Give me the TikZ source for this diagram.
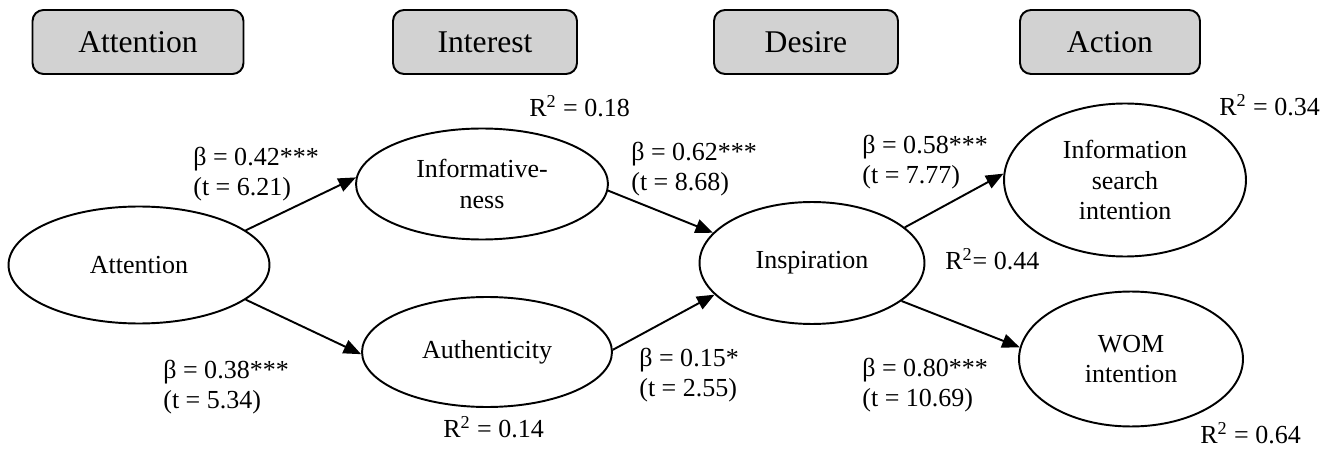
\documentclass[tikz,border=0pt]{standalone}
\usepackage{fontspec}
\setmainfont{Liberation Serif}
\usetikzlibrary{positioning, arrows.meta, shapes.geometric}
\definecolor{headgray}{RGB}{210,210,210}

\tikzset{
    headbox/.style = {draw, line width=1.1pt, rounded corners=0.22cm,
        fill=headgray, minimum height=1.28cm, inner sep=0pt,
        font=\fontsize{18}{21}\selectfont},
    latent/.style = {draw, line width=1.1pt, ellipse, inner sep=0pt,
        align=center, font=\fontsize{14.8}{17.5}\selectfont},
    coef/.style = {anchor=west, inner sep=0pt, align=left,
        font=\fontsize{14.8}{17.5}\selectfont},
}

\begin{document}
\begin{tikzpicture}[x=0.02cm, y=-0.02cm, > = {Triangle[length=10pt, width=8pt]}]
    \useasboundingbox (0,0) rectangle (1335,449);

    % stages
    \node [headbox, minimum width=4.22cm] (hatt) at (138,42) {Attention};
    \node [headbox, minimum width=3.68cm] (hint) at (485,42) {Interest};
    \node [headbox, minimum width=3.68cm] (hdes) at (806,42) {Desire};
    \node [headbox, minimum width=3.60cm] (hact) at (1110,42) {Action};

    % constructs
    \node [latent,
        minimum width=5.22cm, minimum height=2.34cm
    ] (att) at (139,265) {Attention};

    \node [latent,
        minimum width=5.04cm, minimum height=2.22cm
    ] (inf) at (482,184) {Informative-\\ness};

    \node [latent,
        minimum width=5.00cm, minimum height=2.20cm
    ] (aut) at (487,352) {Authenticity};

    \node [latent,
        minimum width=4.50cm, minimum height=2.44cm
    ] (insp) at (812,263) {Inspiration};

    \node [latent,
        minimum width=4.84cm, minimum height=3.06cm
    ] (search) at (1125,180) {Information\\search\\intention};

    \node [latent,
        minimum width=4.48cm, minimum height=2.70cm
    ] (wom) at (1131,359) {WOM\\intention};

    % paths
    \draw [->, line width=1.1pt] (att.18) -- (inf.177);
    \draw [->, line width=1.1pt] (att.-18) -- (aut.181);
    \draw [->, line width=1.1pt] (inf.-3) -- (insp.163);
    \draw [->, line width=1.1pt] (aut.1) -- (insp.198);
    \draw [->, line width=1.1pt] (insp.21) -- (search.177);
    \draw [->, line width=1.1pt] (insp.-23) -- (wom.174);

    % coefficients
    \node [coef] (c1) at (193,174) {β = 0.42***\\(t = 6.21)};
    \node [coef] (c2) at (163,387) {β = 0.38***\\(t = 5.34)};
    \node [coef] (c3) at (631,169) {β = 0.62***\\(t = 8.68)};
    \node [coef] (c4) at (639,375) {β = 0.15*\\(t = 2.55)};
    \node [coef] (c5) at (862,162) {β = 0.58***\\(t = 7.77)};
    \node [coef] (c6) at (862,385) {β = 0.80***\\(t = 10.69)};

    % explained variance
    \node [coef] (r1) at (529,106) {R\textsuperscript{2} = 0.18};
    \node [coef] (r2) at (443,427) {R\textsuperscript{2} = 0.14};
    \node [coef] (r3) at (945,259) {R\textsuperscript{2}= 0.44};
    \node [coef] (r4) at (1219,105) {R\textsuperscript{2} = 0.34};
    \node [coef] (r5) at (1200,433) {R\textsuperscript{2} = 0.64};
\end{tikzpicture}
\end{document}
